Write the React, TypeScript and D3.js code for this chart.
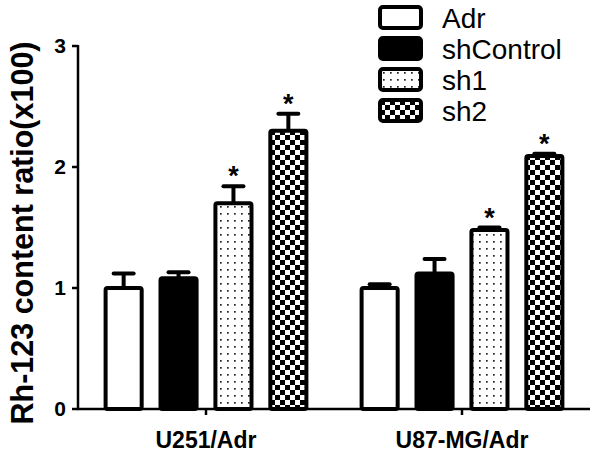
import React from "react";
import * as d3 from "d3";

const groups = ["U251/Adr", "U87-MG/Adr"];
const series = ["Adr", "shControl", "sh1", "sh2"];
const values = [
  [1.0, 1.08, 1.7, 2.3],
  [1.0, 1.12, 1.48, 2.09],
];
const errors = [
  [0.12, 0.05, 0.14, 0.14],
  [0.03, 0.12, 0.02, 0.02],
];
const significant = [
  [false, false, true, true],
  [false, false, true, true],
];
const yTicks = [0, 1, 2, 3];

const W = 600;
const H = 454;
const fills = ["#fff", "#000", "url(#dots)", "url(#checker)"];

export default function App() {
  const y = d3.scaleLinear().domain([0, 3]).range([409, 46]);
  const x0 = d3.scaleBand().domain(groups).range([78, 590]).paddingInner(0.2).paddingOuter(0.1);
  const x1 = d3.scaleBand().domain(series).range([0, x0.bandwidth()]).paddingInner(0.27);
  const font = "'Liberation Sans', Arial, sans-serif";
  const sw = 4;
  return (
    <svg width={W} height={H} style={{ position: "absolute", left: 0, top: 0 }} fontFamily={font}>
      <defs>
        <pattern id="dots" width={7} height={7} patternUnits="userSpaceOnUse">
          <rect width={7} height={7} fill="#fff" />
          <rect x={3} y={3} width={1.7} height={1.7} fill="#222" />
        </pattern>
        <pattern id="checker" width={10} height={10} patternUnits="userSpaceOnUse">
          <rect width={10} height={10} fill="#fff" />
          <rect x={0} y={0} width={5} height={5} fill="#000" />
          <rect x={5} y={5} width={5} height={5} fill="#000" />
        </pattern>
      </defs>
      <rect width={W} height={H} fill="#fff" />
      {groups.map((g, gi) => (
        <g key={g}>
          {series.map((s, si) => {
            const bx = (x0(g) as number) + (x1(s) as number);
            const bw = x1.bandwidth();
            const v = values[gi][si];
            const e = errors[gi][si];
            const cx = bx + bw / 2;
            const top = y(v);
            const capY = y(v + e);
            return (
              <g key={s}>
                <line x1={cx} x2={cx} y1={top} y2={capY} stroke="#000" strokeWidth={sw} />
                <line x1={cx - 10} x2={cx + 10} y1={capY} y2={capY} stroke="#000" strokeWidth={sw} strokeLinecap="round" />
                <rect
                  x={bx + sw / 2}
                  y={top}
                  width={bw - sw}
                  height={y(0) - top}
                  fill={fills[si]}
                  stroke="#000"
                  strokeWidth={sw}
                  rx={2}
                />
                {significant[gi][si] && (
                  <text x={cx} y={capY - 1} textAnchor="middle" fontSize={27} fontWeight="bold">
                    *
                  </text>
                )}
              </g>
            );
          })}
        </g>
      ))}
      {/* y axis */}
      <line x1={78} x2={78} y1={y(3) - 1} y2={y(0) + 1} stroke="#000" strokeWidth={2.5} />
      {yTicks.map((t) => (
        <g key={t}>
          <line x1={72} x2={78} y1={y(t)} y2={y(t)} stroke="#000" strokeWidth={2.5} />
          <text x={66} y={y(t)} dy="0.35em" textAnchor="end" fontSize={21} fontWeight="bold">
            {t}
          </text>
        </g>
      ))}
      {/* x axis */}
      <line x1={77} x2={590} y1={y(0)} y2={y(0)} stroke="#000" strokeWidth={2.5} />
      {groups.map((g) => {
        const cx = (x0(g) as number) + x0.bandwidth() / 2;
        return (
          <g key={g}>
            <line x1={cx} x2={cx} y1={y(0)} y2={y(0) + 6} stroke="#000" strokeWidth={2.5} />
            <text x={cx} y={448} textAnchor="middle" fontSize={23} fontWeight="bold">
              {g}
            </text>
          </g>
        );
      })}
      <text
        transform={`translate(33, 233) rotate(-90)`}
        textAnchor="middle"
        fontSize={30.5}
        fontWeight="bold"
      >
        Rh-123 content ratio(x100)
      </text>
      {/* legend */}
      {series.map((s, i) => (
        <g key={s} transform={`translate(380, ${7 + i * 31})`}>
          <rect x={0} y={0} width={41} height={21} fill={fills[i]} stroke="#000" strokeWidth={4} rx={3} />
          <text x={62} y={10.5} dy="0.36em" fontSize={28}>
            {s}
          </text>
        </g>
      ))}
    </svg>
  );
}
